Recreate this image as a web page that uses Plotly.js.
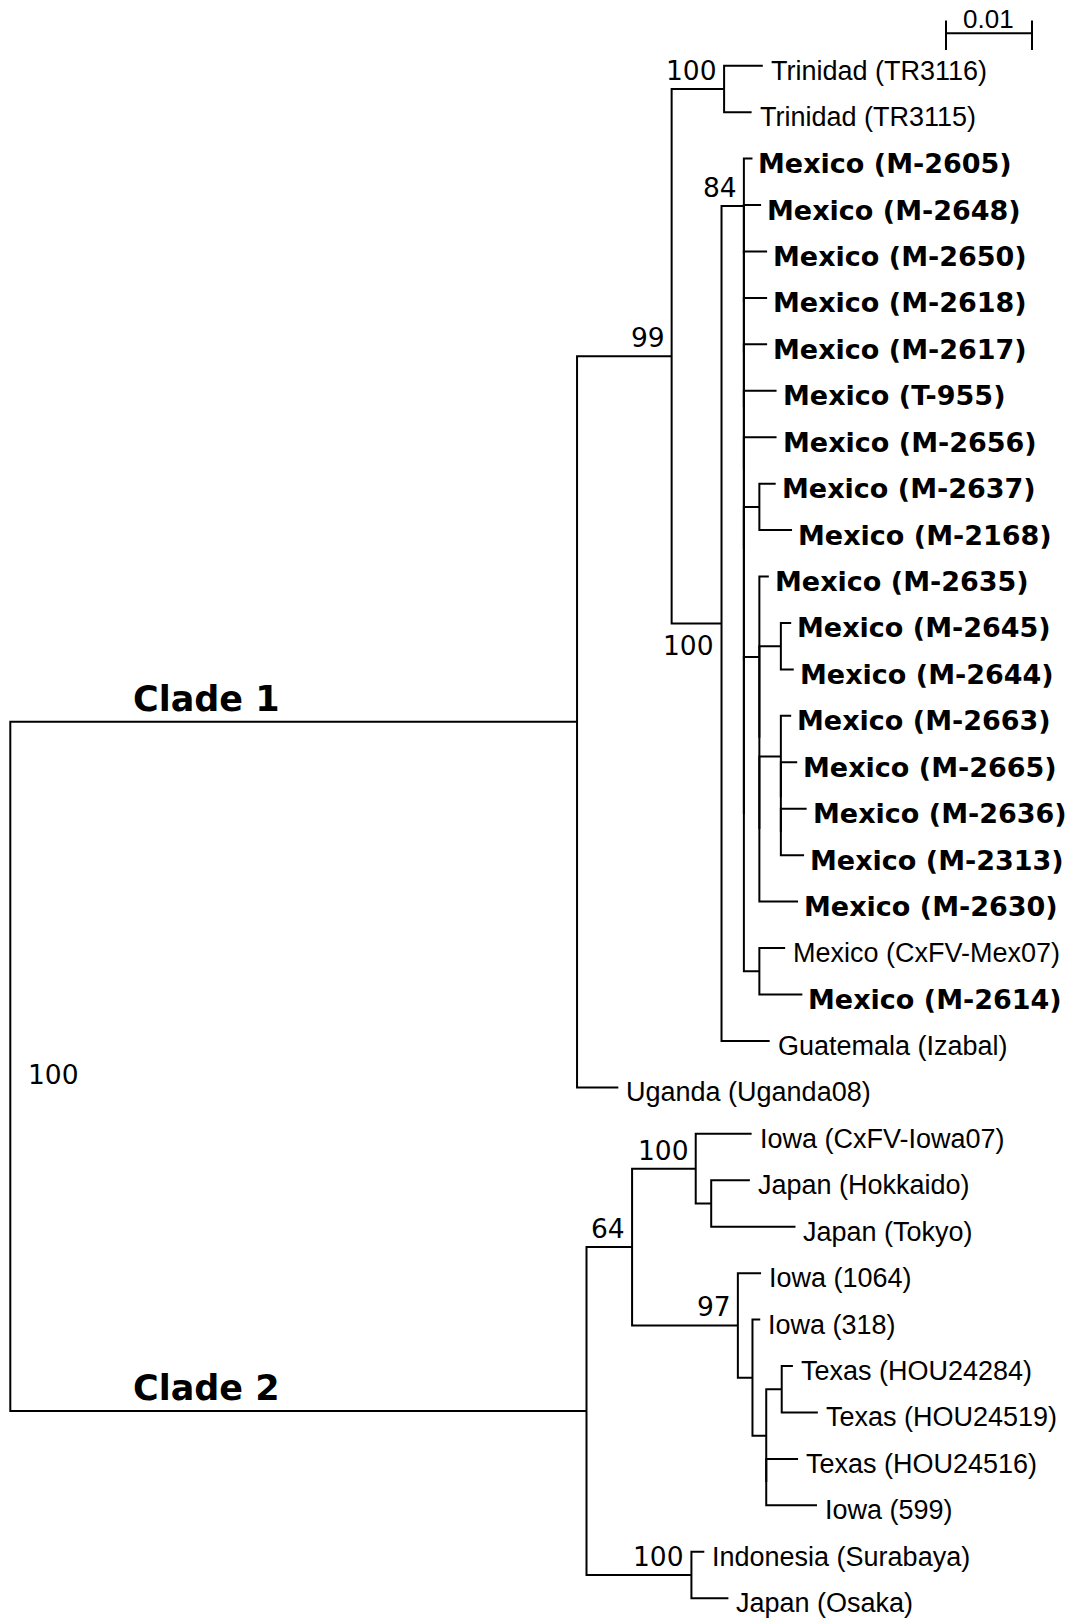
<!DOCTYPE html>
<html>
<head>
<meta charset="utf-8">
<script src="https://cdn.plot.ly/plotly-3.0.1.min.js"></script>
<style>html,body{margin:0;padding:0;background:#fff;}#chart{width:1068px;height:1621px;}</style>
</head>
<body>
<div id="chart"></div>
<script>
// ---------------- DATA (tree in preorder: node, parent, branch length, bootstrap, tip label) ----------------
const nodeIds = [
  'root','clade1','nA','nTri','TR3116','TR3115','n100','n84','M2605','c1','M2648','c2','M2650','c3','M2618','c4','M2617','c5','T955','c6','M2656','c7','p1','M2637','M2168','c8','nB','M2635','b1','nC','M2645','M2644','b2','nD','M2663','d1','M2665','d2','M2636','M2313','M2630','nE','CxFVMex07','M2614','Guatemala','Uganda',
  'clade2','nF','nG','Iowa07','nH','Hokkaido','Tokyo','nI','Iowa1064','nJ','Iowa318','nK','nL','HOU24284','HOU24519','k1','HOU24516','Iowa599','nM','Indonesia','Osaka'
];
const parentIds = [
  null,'root','clade1','nA','nTri','nTri','nA','n100','n84','n84','c1','c1','c2','c2','c3','c3','c4','c4','c5','c5','c6','c6','c7','p1','p1','c7','c8','nB','nB','b1','nC','nC','b1','b2','nD','nD','d1','d1','d2','d2','b2','c8','nE','nE','n100','clade1',
  'root','clade2','nF','nG','nG','nH','nH','nF','nI','nI','nJ','nJ','nK','nL','nL','nK','k1','k1','clade2','nM','nM'
];
const branchLengths = [
  0,0.0659,0.0110,0.0061,0.0045,0.0032,0.0058,0.0026,0.0010,0,0.0020,0,0.0027,0,0.0027,0,0.0027,0,0.0038,0,0.0038,0,0.0018,0.0019,0.0038,0,0.0018,0.0011,0,0.0025,0.0012,0.0015,0,0.0025,0.0012,0,0.0019,0,0.0030,0.0027,0.0045,0.0018,0.0030,0.0050,0.0056,0.0048,
  0.0670,0.0053,0.0074,0.0065,0.0018,0.0045,0.0098,0.0123,0.0027,0.0017,0.0009,0.0016,0.0018,0.0013,0.0042,0,0.0037,0.0059,0.0122,0.0015,0.0043
];
const bootstrap = {root:100, nA:99, nTri:100, n100:100, n84:84, nF:64, nG:100, nI:97, nM:100};
const tipLabels = {
  TR3116:'Trinidad (TR3116)', TR3115:'Trinidad (TR3115)',
  M2605:'Mexico (M-2605)', M2648:'Mexico (M-2648)', M2650:'Mexico (M-2650)', M2618:'Mexico (M-2618)',
  M2617:'Mexico (M-2617)', T955:'Mexico (T-955)', M2656:'Mexico (M-2656)', M2637:'Mexico (M-2637)',
  M2168:'Mexico (M-2168)', M2635:'Mexico (M-2635)', M2645:'Mexico (M-2645)', M2644:'Mexico (M-2644)',
  M2663:'Mexico (M-2663)', M2665:'Mexico (M-2665)', M2636:'Mexico (M-2636)', M2313:'Mexico (M-2313)',
  M2630:'Mexico (M-2630)', CxFVMex07:'Mexico (CxFV-Mex07)', M2614:'Mexico (M-2614)',
  Guatemala:'Guatemala (Izabal)', Uganda:'Uganda (Uganda08)',
  Iowa07:'Iowa (CxFV-Iowa07)', Hokkaido:'Japan (Hokkaido)', Tokyo:'Japan (Tokyo)',
  Iowa1064:'Iowa (1064)', Iowa318:'Iowa (318)', HOU24284:'Texas (HOU24284)', HOU24519:'Texas (HOU24519)',
  HOU24516:'Texas (HOU24516)', Iowa599:'Iowa (599)', Indonesia:'Indonesia (Surabaya)', Osaka:'Japan (Osaka)'
};
const thisStudyIsolates = ['M2605','M2648','M2650','M2618','M2617','T955','M2656','M2637','M2168','M2635',
  'M2645','M2644','M2663','M2665','M2636','M2313','M2630','M2614'];
const cladeNodes = ['clade1','clade2'];
const cladeNames = ['Clade 1','Clade 2'];
const scaleBarLength = 0.01;
const scaleBarLabel = '0.01';

// ---------------- LAYOUT OF THE TREE ----------------
const nodes = {};
nodeIds.forEach((id, i) => {
  nodes[id] = {id, parent: parentIds[i], len: branchLengths[i], children: []};
});
nodeIds.forEach(id => { const p = nodes[id].parent; if (p) nodes[p].children.push(nodes[id]); });
let row = 0;
nodeIds.forEach(id => {   // preorder: x cumulative, tips get consecutive rows
  const n = nodes[id];
  n.x = n.parent ? nodes[n.parent].x + n.len : 0;
  if (n.children.length === 0) n.y = row++;
});
function setY(n) {
  if (n.children.length === 0) return n.y;
  const ys = n.children.map(setY);
  n.y = (ys[0] + ys[ys.length - 1]) / 2;
  return n.y;
}
setY(nodes.root);

const lx = [], ly = [];
nodeIds.forEach(id => {
  const n = nodes[id];
  if (n.children.length === 0) return;
  const a = n.children[0], b = n.children[n.children.length - 1];
  lx.push(a.x, n.x, n.x, b.x, null);
  ly.push(a.y, a.y, b.y, b.y, null);
});

const annotations = [];
const BLACK = '#000';
Object.keys(tipLabels).forEach(id => {
  const n = nodes[id];
  const bold = thisStudyIsolates.includes(id);
  annotations.push({
    x: n.x, y: n.y, xref: 'x', yref: 'y', text: tipLabels[id], showarrow: false,
    xanchor: 'left', yanchor: 'middle', xshift: bold ? 4 : 6, yshift: -5,
    font: bold ? {family: 'DejaVu Sans', size: 27, weight: 'bold', color: BLACK}
               : {family: 'Liberation Sans', size: 27, color: BLACK}
  });
});
const supportPlacement = {root: 'right', n100: 'below'};
Object.keys(bootstrap).forEach(id => {
  const n = nodes[id];
  const place = supportPlacement[id] || 'above';
  const a = {x: n.x, y: n.y, xref: 'x', yref: 'y', text: String(bootstrap[id]), showarrow: false,
    font: {family: 'DejaVu Sans', size: 26.5, color: BLACK}};
  if (place === 'right') Object.assign(a, {xanchor: 'left', yanchor: 'middle', xshift: 16, yshift: -8});
  else if (place === 'below') Object.assign(a, {xanchor: 'right', yanchor: 'top', xshift: -6, yshift: -5});
  else Object.assign(a, {xanchor: 'right', yanchor: 'bottom', xshift: -5, yshift: 1});
  annotations.push(a);
});
cladeNodes.forEach((id, i) => {
  annotations.push({x: nodes.root.x, y: nodes[id].y, xref: 'x', yref: 'y', text: cladeNames[i], showarrow: false,
    xanchor: 'left', yanchor: 'bottom', xshift: 121, yshift: 1,
    font: {family: 'DejaVu Sans', size: 35, weight: 'bold', color: BLACK}});
});

// scale bar
const sb0 = 0.1088, sbY = 1 - 33.3 / 1621, sbTop = 1 - 20.5 / 1621, sbBot = 1 - 50 / 1621;
const shapes = [
  {type: 'line', xref: 'x', yref: 'paper', x0: sb0, x1: sb0 + scaleBarLength, y0: sbY, y1: sbY, line: {color: BLACK, width: 2}},
  {type: 'line', xref: 'x', yref: 'paper', x0: sb0, x1: sb0, y0: sbTop, y1: sbBot, line: {color: BLACK, width: 2}},
  {type: 'line', xref: 'x', yref: 'paper', x0: sb0 + scaleBarLength, x1: sb0 + scaleBarLength, y0: sbTop, y1: sbBot, line: {color: BLACK, width: 2}}
];
annotations.push({x: sb0 + scaleBarLength / 2, y: 1 - 19 / 1621, xref: 'x', yref: 'paper', text: scaleBarLabel,
  showarrow: false, xanchor: 'center', yanchor: 'middle', xshift: 0,
  font: {family: 'Liberation Sans', size: 26, color: BLACK}});

const PX = 8600;              // pixels per substitution/site
const rowPx = 46.44, row0 = 65.7;
Plotly.newPlot('chart', [{
  type: 'scatter', mode: 'lines', x: lx, y: ly,
  line: {color: BLACK, width: 2}, hoverinfo: 'skip', showlegend: false
}], {
  width: 1068, height: 1621,
  margin: {l: 0, r: 0, t: 0, b: 0, pad: 0},
  paper_bgcolor: '#fff', plot_bgcolor: '#fff',
  xaxis: {range: [-10.3 / PX, (1068 - 10.3) / PX], visible: false, fixedrange: true},
  yaxis: {range: [(1621 - row0) / rowPx, -row0 / rowPx], visible: false, fixedrange: true},
  annotations, shapes, showlegend: false
}, {displayModeBar: false, staticPlot: true});
</script>
</body>
</html>
